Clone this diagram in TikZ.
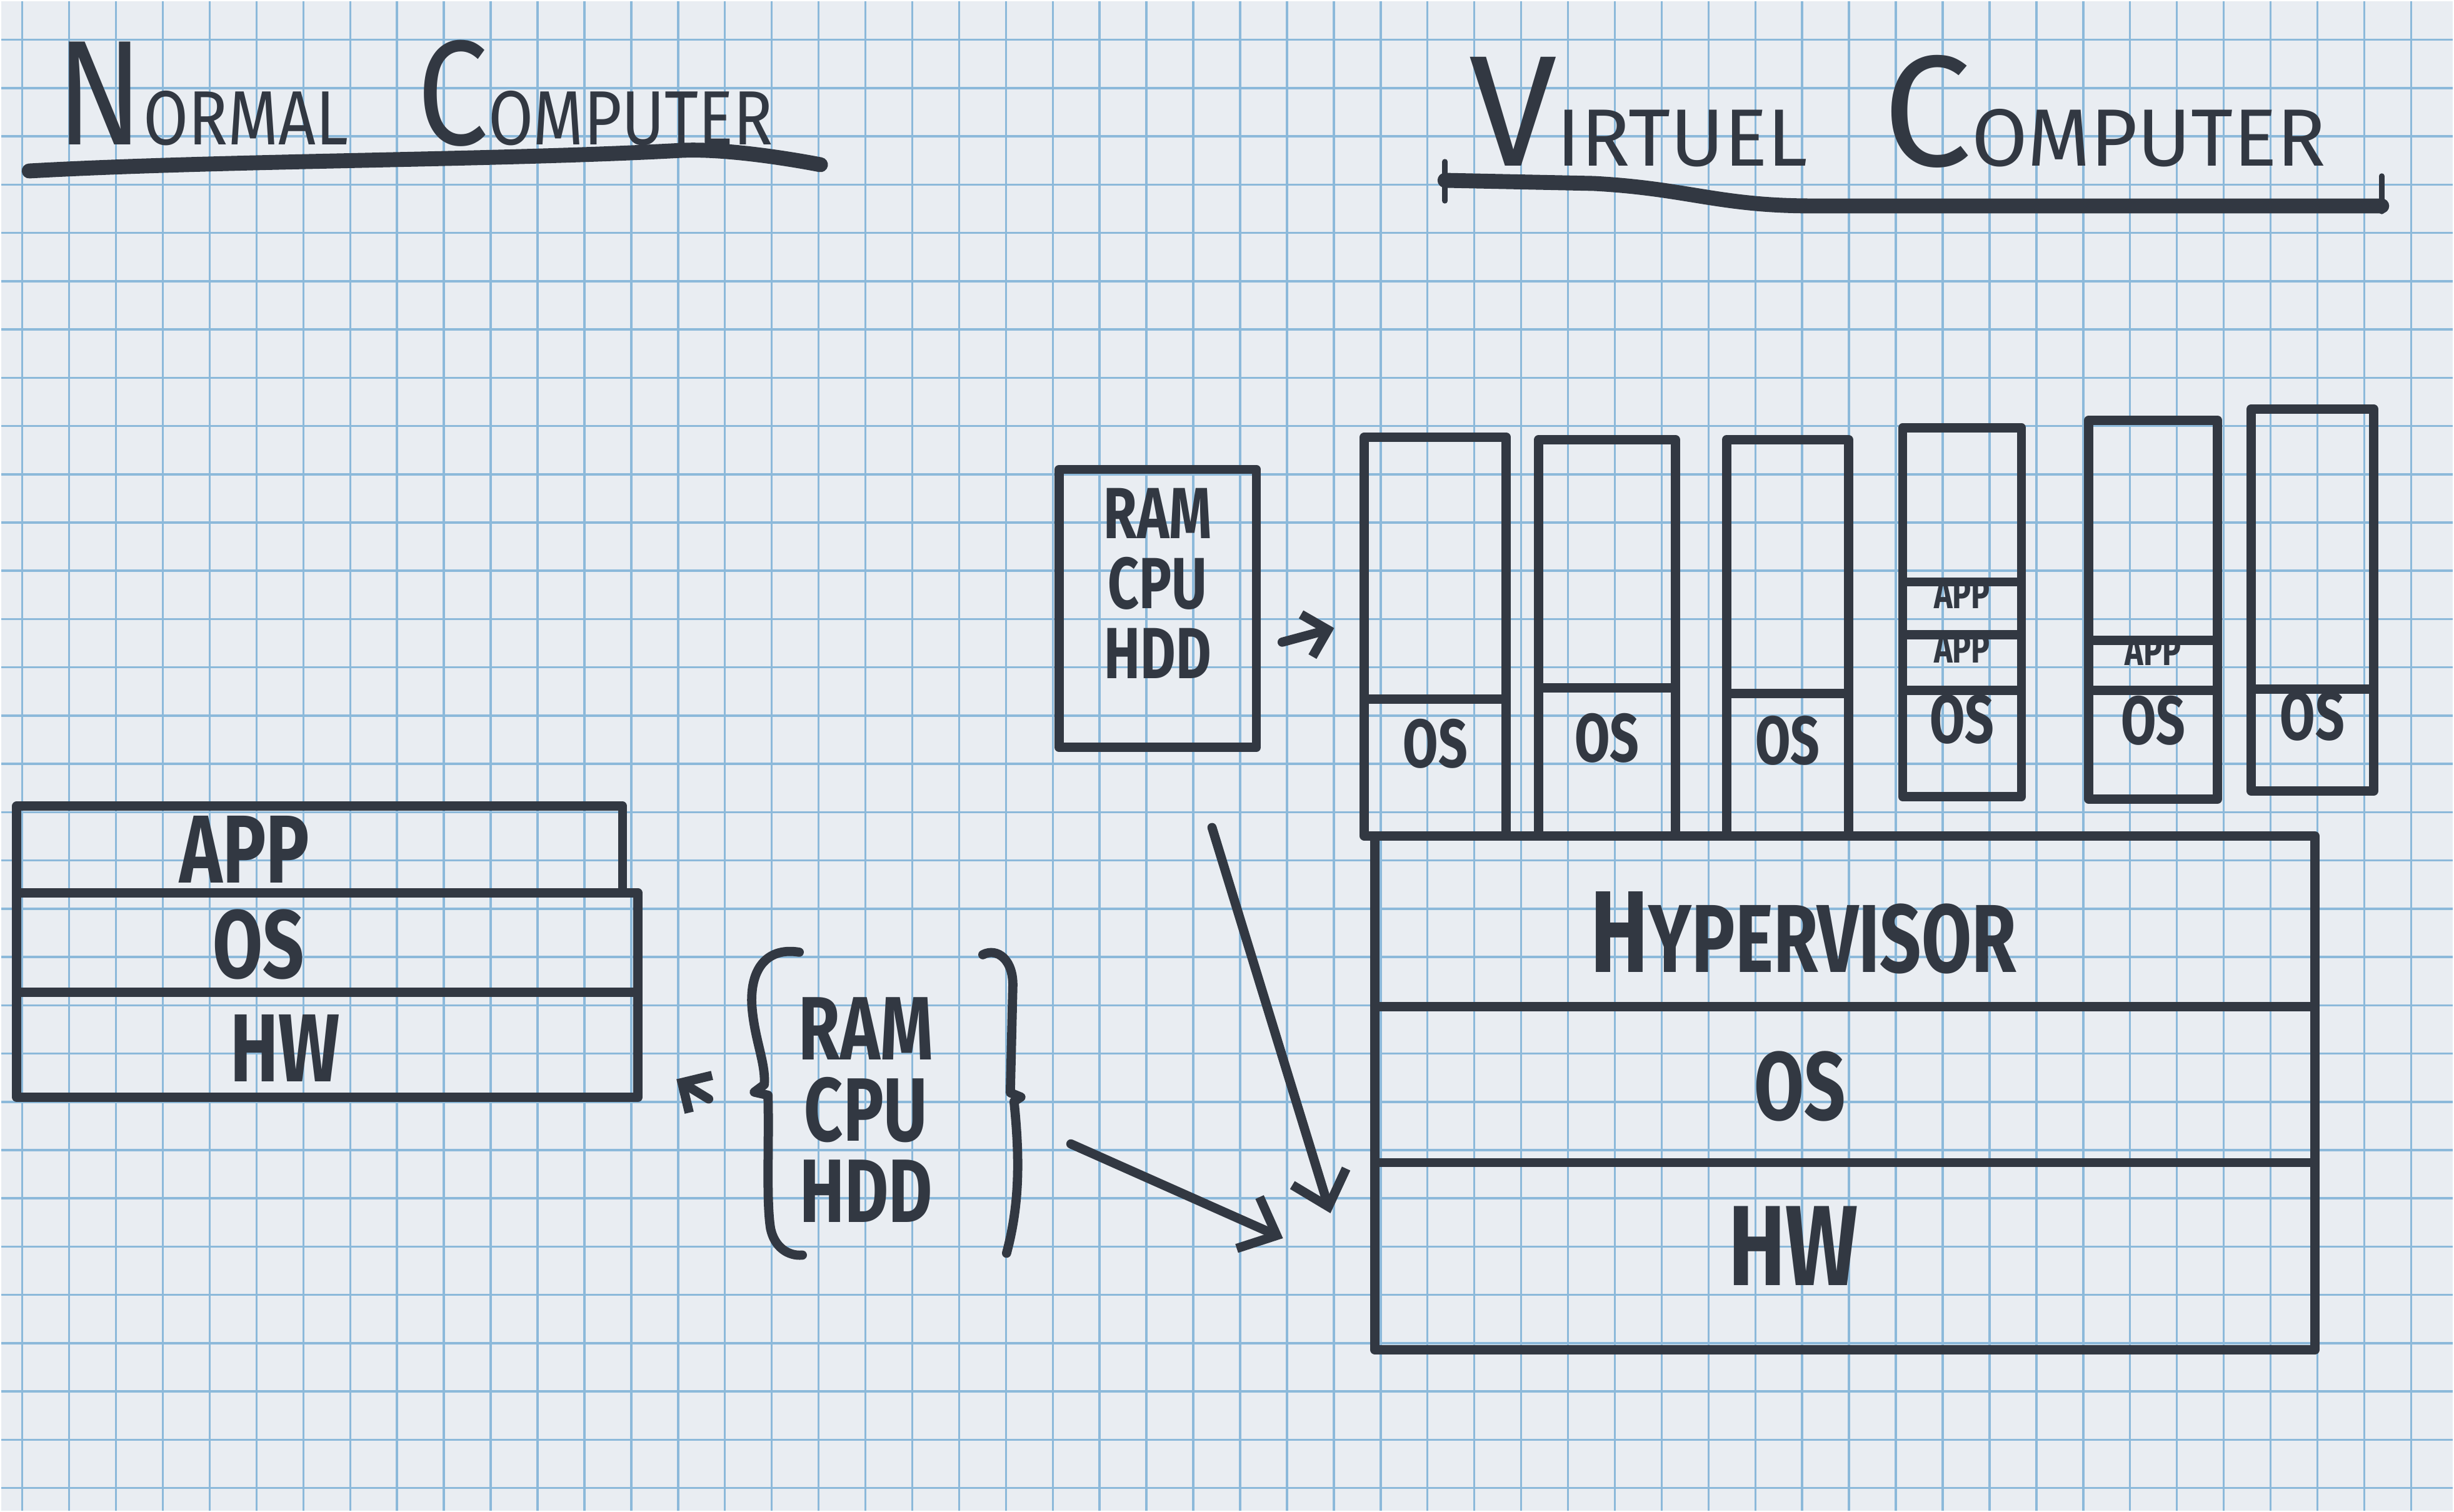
\documentclass[tikz,border=0pt]{standalone}
\usepackage{fontspec}
\setmainfont{Fira Sans}[FakeStretch=0.75]
\newfontfamily\ttlnormfont{Fira Sans}[FakeStretch=0.85]
\newfontfamily\ttlvirtfont{Fira Sans}[FakeStretch=1.0]
\usetikzlibrary{arrows.meta,calc,fit}
\definecolor{ink}{RGB}{50,56,66}
\definecolor{paper}{RGB}{233,237,242}
\definecolor{gridblue}{RGB}{140,185,218}
\def\capword#1#2#3#4{{\fontsize{#3}{#3}\selectfont #1}{\fontsize{#4}{#4}\selectfont #2}}

\tikzset{
	layer/.style={draw=ink, text=ink, line width=4.2pt, line join=round, inner sep=0pt, rectangle},
	lbl/.style={text=ink, inner sep=0pt, font=\bfseries\fontsize{44}{44}\selectfont},
	vmos/.style={font=\bfseries\fontsize{31}{31}\selectfont},
	vmapp/.style={font=\bfseries\fontsize{19}{19}\selectfont},
	ttl/.style={text=ink, inner sep=0pt},
	uline/.style={draw=ink, line width=6.8pt, line cap=round},
	tick/.style={draw=ink, line width=2.4pt, line cap=round},
	brace/.style={draw=ink, line width=4.2pt, line cap=round, line join=round},
	arr/.style={draw=ink, line width=4.2pt, line cap=round, -{Straight Barb[length=5mm,width=9mm]}},
	arrsm/.style={draw=ink, line width=4.2pt, line cap=round, -{Straight Barb[length=3.5mm,width=7mm]}},
	gridln/.style={draw=gridblue, line width=1pt}
}

\begin{document}
\begin{tikzpicture}[x=1cm, y=-1cm]
		%%%%% START %%%%%
		
		\fill[paper] (0,0) rectangle (39.26,24.17);
		\foreach \i in {0,...,51} \draw[gridln] ({0.34+0.75*\i},0) -- ++(0,24.17);
		\foreach \j in {0,...,30} \draw[gridln] (0,{0.62+0.773*\j}) -- ++(39.26,0);
		
		% titles
		\node[ttl, anchor=base west, font=\ttlnormfont] (ttlnorm) at (0.88,2.30) {\capword{N}{ORMAL}{68}{35}\hspace{1.1cm}\capword{C}{OMPUTER}{68}{35}};
		\draw[uline] (0.45,2.72) .. controls (3.5,2.55) and (8,2.55) .. (10.9,2.39) .. controls (11.6,2.36) and (12.6,2.52) .. (13.12,2.62);
		
		\node[ttl, anchor=base west, font=\ttlvirtfont] (ttlvirt) at (23.50,2.64) {\capword{V}{IRTUEL}{72}{37}\hspace{1.2cm}\capword{C}{OMPUTER}{72}{37}};
		\draw[uline] (23.12,2.87) -- (25.5,2.92) .. controls (27,3.0) and (27.5,3.28) .. (29,3.28) -- (38.12,3.28);
		\draw[tick] (23.12,2.57) -- (23.12,3.20);
		\draw[tick] (38.12,2.80) -- (38.12,3.37);
		
		% normal computer
		\node[layer, fit={(0.25,12.89) (9.95,14.28)}] (napp) {};
		\node[layer, fit={(0.25,14.28) (10.20,15.87)}] (nos) {};
		\node[layer, fit={(0.25,15.87) (10.20,17.55)}] (nhw) {};
		\node[lbl] (nappL) at (3.90,13.58) {APP};
		\node[lbl] (nosL) at (4.12,15.11) {OS};
		\node[lbl] (nhwL) at (4.55,16.77) {HW};
		
		% resources
		\node[lbl, align=center, font=\bfseries\fontsize{41}{37}\selectfont] (res) at (13.85,17.75) {RAM\\CPU\\HDD};
		\coordinate (resL) at (12.06,17.47);
		\coordinate (resR) at (16.33,17.55);
		\draw[brace] (12.78,15.23) .. controls (12.30,15.15) and (12.00,15.45) .. (12.02,16.05) .. controls (12.05,16.6) and (12.25,17.0) .. (12.22,17.35) -- (resL) -- (12.28,17.52) .. controls (12.30,18.3) and (12.25,19.2) .. (12.32,19.65) .. controls (12.38,19.95) and (12.6,20.1) .. (12.83,20.08);
		\draw[brace] (15.72,15.27) .. controls (15.95,15.15) and (16.22,15.35) .. (16.20,15.8) -- (16.16,17.48) -- (resR) -- (16.22,17.62) .. controls (16.32,18.6) and (16.30,19.3) .. (16.10,20.05);
		
		\node[layer, align=center, font=\bfseries\fontsize{33}{32}\selectfont, fit={(16.94,7.50) (20.10,11.95)}] (vres) {RAM\\CPU\\HDD};
		
		% virtual computer
		\node[layer, fit={(22.00,13.37) (37.05,16.10)}] (vhyp) {};
		\node[layer, fit={(22.00,16.10) (37.05,18.60)}] (vos) {};
		\node[layer, fit={(22.00,18.60) (37.05,21.60)}] (vhw) {};
		\node[lbl] (vhypL) at (28.86,14.92) {{\fontsize{53}{53}\selectfont H}YPERVISOR};
		\node[lbl] (vosL) at (28.80,17.38) {OS};
		\node[lbl, font=\bfseries\fontsize{52}{52}\selectfont] (vhwL) at (28.70,19.93) {HW};
		
		\foreach \n/\xl/\xr/\yt/\yd/\yb in {1/21.83/24.10/6.98/11.18/13.37, 2/24.62/26.81/7.02/11.00/13.37, 3/27.63/29.58/7.02/11.09/13.37, 6/36.03/37.99/6.53/11.02/12.65}{
			\node[layer, fit={(\xl,\yt) (\xr,\yd)}] (vm\n t) {};
			\node[layer, vmos, fit={(\xl,\yd) (\xr,\yb)}] (vm\n os) {OS};
		}
		\node[layer, fit={(30.45,6.83) (32.35,9.30)}] (vm4t) {};
		\node[layer, vmapp, fit={(30.45,9.30) (32.35,10.15)}] (vm4a) {APP};
		\node[layer, vmapp, fit={(30.45,10.15) (32.35,11.04)}] (vm4b) {APP};
		\node[layer, vmos, fit={(30.45,11.04) (32.35,12.74)}] (vm4os) {OS};
		\node[layer, fit={(33.43,6.71) (35.49,10.24)}] (vm5t) {};
		\node[layer, vmapp, fit={(33.43,10.24) (35.49,11.04)}] (vm5a) {APP};
		\node[layer, vmos, fit={(33.43,11.04) (35.49,12.78)}] (vm5os) {OS};
		
		% arrows
		\draw[arrsm] ($(resL)+(-0.73,0.11)$) -- ($(nhw.south east)+(0.54,-0.36)$);
		\draw[arr] ($(resR)+(0.80,0.75)$) -- ($(vhw.west)+(-1.40,-0.29)$);
		\draw[arrsm] ($(vres.east)+(0.34,0.54)$) -- ($(vm1t.west)+(-0.41,0.96)$);
		\draw[arr] ($(vres.south)+(0.87,1.21)$) -- ($(vhw.west)+(-0.64,-0.69)$);
		
		%%%%% END %%%%%
\end{tikzpicture}
\end{document}
